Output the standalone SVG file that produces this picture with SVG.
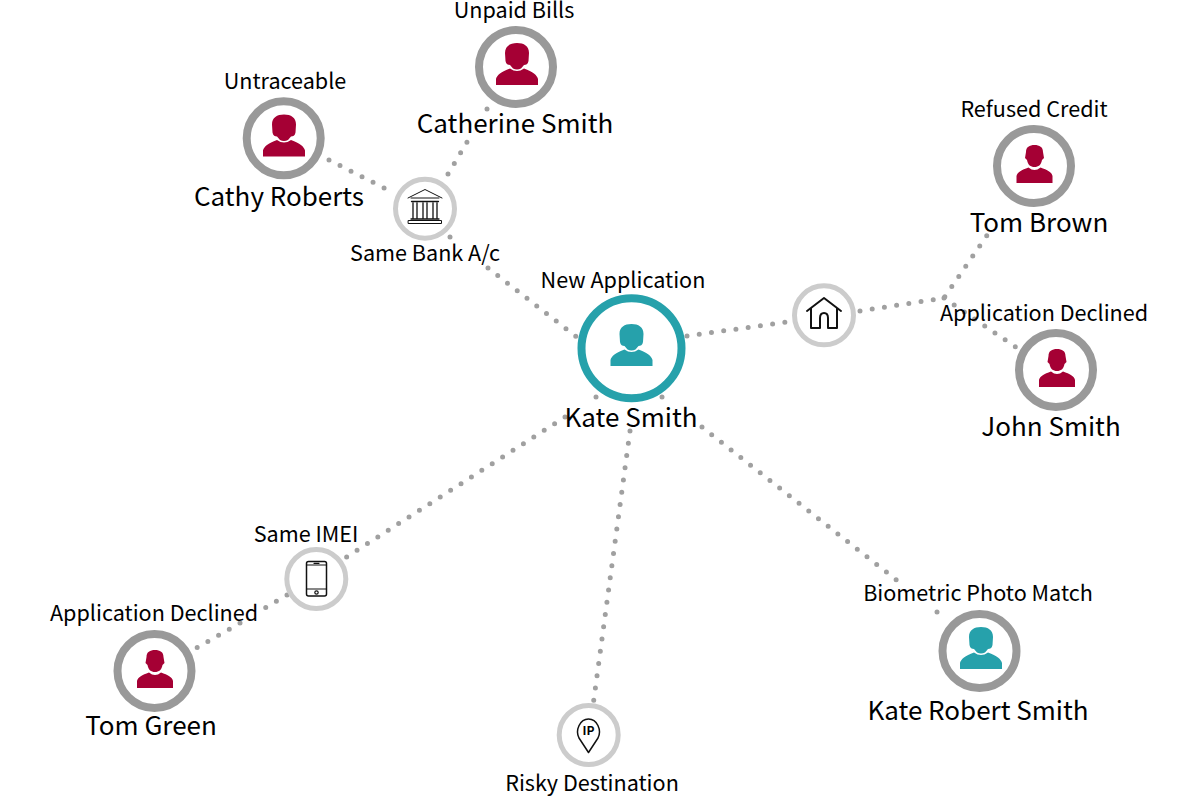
<svg xmlns="http://www.w3.org/2000/svg" width="1192" height="808" viewBox="0 0 1192 808">
<style>
text{font-family:"Noto Sans CJK SC","Noto Sans",sans-serif;fill:#000;text-anchor:middle}
.name{font-size:26px}
.tag{font-size:21.600px}
.dot{fill:none;stroke:#a0a0a0;stroke-width:5;stroke-linecap:round;stroke-dasharray:0 12.35}
.ring{fill:#fff;stroke:#999;stroke-width:8}
.main{fill:#fff;stroke:#26a1ab;stroke-width:8}
.small{fill:#fff;stroke:#ccc;stroke-width:5}
.ico{fill:none;stroke:#111;stroke-width:2;stroke-linejoin:round;stroke-linecap:round}
</style>
<defs>
<g id="f"><path d="M-12-14C-12-21-7-24 0-24C7-24 12-21 12-14L11.500-6C11-3 9-2 7-2L4 1.500Q0 3.500-4 1.500L-7-2C-9-2-11-3-11.500-6Z"/><path d="M-21 18L-21 12C-20 8-16 5-7 1.500Q0 6.500 7 1.500C16 5 20 8 21 12L21 18Z"/></g>
<g id="m"><path d="M-8.500-14C-8.500-19-5-21 0-21C5-21 8.500-19 8.500-14L9.500-8L7.500-6C6.500-1 4 1 0 1C-4 1-6.500-1-7.500-6L-9.500-8Z"/><path d="M-18 17L-18 10C-17 6-13 4-6 1.500Q0 6.500 6 1.500C13 4 17 6 18 10L18 17Z"/></g>
</defs>
<g id="connectors">
<path class="dot" d="M329 160L395 193.500"/>
<path class="dot" d="M448 174L467 142"/>
<path class="dot" d="M487 109L488 108"/>
<path class="dot" d="M450 237L451 238"/>
<path class="dot" d="M488 268L578 338"/>
<path class="dot" d="M687 336L787 322"/>
<path class="dot" d="M860 311L944 298L992 228"/>
<path class="dot" d="M944 298L1017 348"/>
<path class="dot" d="M596 397L597 396"/>
<path class="dot" d="M565 417L345 558"/>
<path class="dot" d="M287 595L265 608"/>
<path class="dot" d="M240 623L193 650"/>
<path class="dot" d="M630 431L593.500 702"/>
<path class="dot" d="M662 397L672 402"/>
<path class="dot" d="M702 427L899 582"/>
<path class="dot" d="M937 612L946 619"/>
</g>
<g id="kate-smith"><circle class="main" cx="631.500" cy="348.300" r="50"/><use href="#f" x="631.500" y="348" fill="#26a1ab"/><text class="tag" x="623" y="288">New Application</text><text class="name" x="631" y="427.300">Kate Smith</text></g>
<g id="cathy-roberts"><circle class="ring" cx="283.700" cy="138.300" r="37"/><use href="#f" x="284" y="138.500" fill="#a50034"/><text class="tag" x="285" y="89">Untraceable</text><text class="name" x="279" y="206.300">Cathy Roberts</text></g>
<g id="catherine-smith"><circle class="ring" cx="516" cy="67" r="37"/><use href="#f" x="517" y="67" fill="#a50034"/><text class="tag" x="514" y="18">Unpaid Bills</text><text class="name" x="515" y="133.300">Catherine Smith</text></g>
<g id="tom-brown"><circle class="ring" cx="1034" cy="166" r="37"/><use href="#m" x="1034.500" y="166" fill="#a50034"/><text class="tag" x="1034" y="117">Refused Credit</text><text class="name" x="1039" y="232.300">Tom Brown</text></g>
<g id="john-smith"><circle class="ring" cx="1056" cy="370" r="37"/><use href="#m" x="1057" y="370" fill="#a50034"/><text class="tag" x="1044" y="321">Application Declined</text><text class="name" x="1051" y="436.300">John Smith</text></g>
<g id="kate-robert-smith"><circle class="ring" cx="979.500" cy="651" r="37"/><use href="#f" x="981" y="651" fill="#26a1ab"/><text class="tag" x="978" y="601">Biometric Photo Match</text><text class="name" x="978" y="720.300">Kate Robert Smith</text></g>
<g id="tom-green"><circle class="ring" cx="154.500" cy="671" r="37"/><use href="#m" x="155" y="671" fill="#a50034"/><text class="tag" x="154" y="621">Application Declined</text><text class="name" x="151" y="735.300">Tom Green</text></g>
<g id="same-bank"><circle class="small" cx="425" cy="208.700" r="29.500"/>
<path class="ico" style="stroke-width:1" d="M408 198L425 189.500L442 198M411 198H439M408.500 220.500H441.500V223.500H408.500Z"/>
<path class="ico" style="stroke-width:1.300" d="M411.500 201.500H438.500M413 203V218M417 203V218M423 203V218M427 203V218M433 203V218M437 203V218M411 219H439"/>
<text class="tag" x="425" y="261">Same Bank A/c</text></g>
<g id="same-address"><circle class="small" cx="824" cy="315.300" r="29.500"/><path class="ico" d="M807 311L824 298L841 311M811 308V328H820V318Q820 313 824 313Q828 313 828 318V328H837V308"/></g>
<g id="same-imei"><circle class="small" cx="316.300" cy="579" r="29.500"/><rect class="ico" style="stroke-width:1.500" x="306.500" y="561.500" width="20" height="34.500" rx="2"/><path class="ico" style="stroke-width:1.200" d="M306.500 565H326.500M306.500 589H326.500M314 563.300H319"/><circle class="ico" style="stroke-width:1.200" cx="316.500" cy="592.500" r="1.700"/><text class="tag" x="306" y="542">Same IMEI</text></g>
<g id="risky-destination"><circle class="small" cx="588.700" cy="735" r="29.500"/><path class="ico" style="stroke-width:1.500" d="M588.500 752.500L579 738C575 730 580 719 588.500 719C597 719 602 730 598 738Z"/><text x="588.500" y="735" font-size="12" font-weight="700">IP</text><text class="tag" x="592" y="791">Risky Destination</text></g>
</svg>
